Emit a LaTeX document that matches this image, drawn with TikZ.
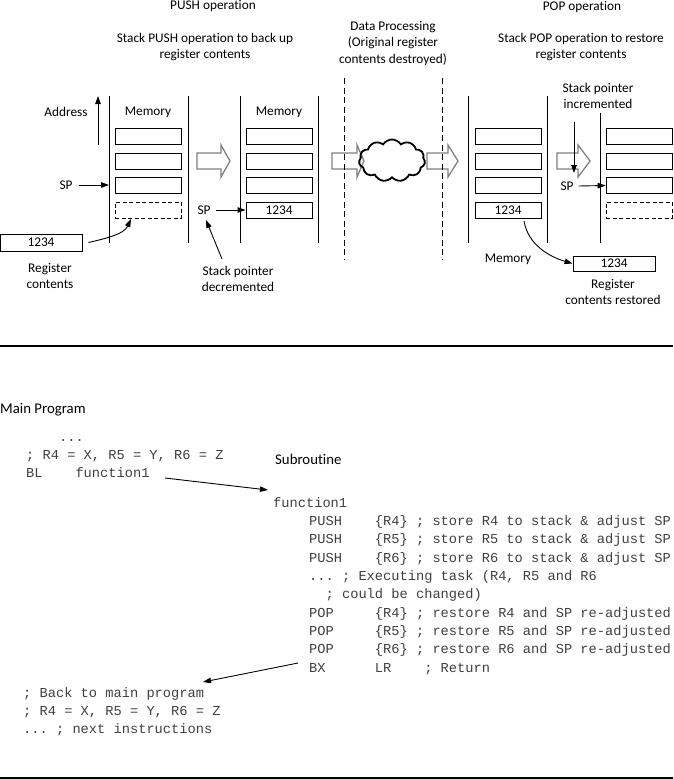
\documentclass[tikz,border=0pt]{standalone}
\usepackage{fontspec}
\setmainfont{Carlito}[Ligatures={NoCommon}]
\newfontfamily\codefont[WordSpace={1,0,0},PunctuationSpace=WordSpace]{Liberation Mono}
\usetikzlibrary{arrows.meta,shapes.symbols}
\newcommand\hollowarrow[3]{%
  \draw[hollow] (#1,153) -- (#2,153) -- (#2,145) -- (#3,161) -- (#2,177) -- (#2,169) -- (#1,169) -- cycle;}
\begin{document}
\frenchspacing
\begin{tikzpicture}[x=1pt,y=-1pt,
  lbl/.style={font=\fontsize{13.3}{16.5}\selectfont, align=center, inner sep=0},
  biglbl/.style={font=\fontsize{14.8}{18}\selectfont, inner sep=0, anchor=west},
  mem/.style={draw, line width=0.9pt, minimum width=66pt, minimum height=16pt, inner sep=0, font=\fontsize{13.3}{16}\selectfont},
  memd/.style={mem, dashed, dash pattern=on 4pt off 2.5pt},
  wall/.style={line width=1pt},
  ptr/.style={line width=0.9pt, -{Triangle[length=8pt,width=5.5pt]}},
  hollow/.style={draw=gray, line width=1.3pt, fill=white},
  code/.style={font=\codefont\fontsize{13.7}{16}\selectfont, text=black!75, anchor=base west, inner sep=0},
  rule/.style={line width=2.2pt},
]
\useasboundingbox (0,0) rectangle (673,779);

% ---------- headings ----------
\node[lbl] (pushT) at (213,6) {PUSH operation};
\node[lbl] (pushD) at (205,47) {Stack PUSH operation to back up\\register contents};
\node[lbl] (dataT) at (393,43) {Data Processing\\(Original register\\contents destroyed)};
\node[lbl] (popT) at (582,7) {POP operation};
\node[lbl] (popD) at (581,47) {Stack POP operation to restore\\register contents};

% ---------- memory walls ----------
\draw[wall] (109,96) -- (109,243);
\draw[wall] (188,96) -- (188,243);
\draw[wall] (240,96) -- (240,243);
\draw[wall] (318,96) -- (318,243);
\draw[wall] (468,96) -- (468,243);
\draw[wall] (547,96) -- (547,243);
\draw[wall] (600,113) -- (600,243);

% ---------- memory 1 ----------
\node[lbl] (memL1) at (148,112) {Memory};
\node[mem]  (m11) at (148,136) {};
\node[mem]  (m12) at (148,161) {};
\node[mem]  (m13) at (148,185.5) {};
\node[memd] (m14) at (148,210) {};
\node[lbl] (addr) at (66,112) {Address};
\coordinate (addrA) at (98,145);
\coordinate (addrB) at (98,96);
\draw[ptr] (addrA) -- (addrB);
\node[lbl] (sp1) at (66,185) {SP};
\coordinate (sp1t) at (109,185);
\draw[ptr] (sp1.east) ++(6,0) -- (sp1t);
\node[mem, minimum width=82pt, minimum height=17pt] (reg1) at (41,242.5) {1234};
\node[lbl] (reg1L) at (50,276) {Register\\contents};
\coordinate (m14in) at (131,219);
\draw[ptr] (reg1.east) ++(6,0) .. controls (108,238) and (124,234) .. (m14in);

% ---------- memory 2 ----------
\node[lbl] (memL2) at (279,112) {Memory};
\node[mem] (m21) at (279,136) {};
\node[mem] (m22) at (279,161) {};
\node[mem] (m23) at (279,185.5) {};
\node[mem] (m24) at (279,210) {1234};
\node[lbl] (sp2) at (204,210) {SP};
\draw[ptr] (sp2.east) ++(5,0) -- (m24.west);
\node[lbl] (spdec) at (238,279) {Stack pointer\\decremented};
\coordinate (spdecA) at (222,259);
\coordinate (spdecB) at (206,220);
\draw[ptr] (spdecA) -- (spdecB);

% ---------- data processing ----------
\hollowarrow{197}{221}{230}
\hollowarrow{332}{357}{364}
\hollowarrow{427}{448}{458}
\hollowarrow{557}{578}{590}
\node[cloud, cloud puffs=11, cloud puff arc=115, draw, line width=1.8pt, minimum width=66pt, minimum height=42pt, inner sep=0] (cloud) at (392,160.5) {};
\draw[dashed, line width=0.9pt, dash pattern=on 6pt off 3.5pt] (344,78) -- (344,259);
\draw[dashed, line width=0.9pt, dash pattern=on 6pt off 3.5pt] (442,78) -- (442,259);

% ---------- memory 3 ----------
\node[mem] (m31) at (508,136) {};
\node[mem] (m32) at (508,161) {};
\node[mem] (m33) at (508,185.5) {};
\node[mem] (m34) at (508,210) {1234};
\node[lbl] (memL3) at (508,259) {Memory};
\node[mem, minimum width=82pt, minimum height=15pt] (reg2) at (614,263.5) {1234};
\node[lbl] (reg2L) at (613,292) {Register\\contents restored};
\coordinate (c34) at (524,221);
\draw[ptr] (c34) .. controls (528,245) and (550,257) .. (reg2.west);

% ---------- memory 4 ----------
\node[mem]  (m41) at (639,136) {};
\node[mem]  (m42) at (639,161) {};
\node[mem]  (m43) at (639,185.5) {};
\node[memd] (m44) at (639,210) {};
\node[lbl] (spinc) at (598,96) {Stack pointer\\incremented};
\node[lbl] (sp4) at (567,186) {SP};
\draw[ptr] (sp4.east) ++(5,0) -- (m43.west);
\coordinate (incA) at (574,122);
\coordinate (incB) at (574,173);
\draw[ptr] (incA) -- (incB);

% ---------- rules ----------
\coordinate (r1a) at (0,346);
\coordinate (r1b) at (673,346);
\draw[rule] (r1a) -- (r1b);
\coordinate (r2a) at (0,778);
\coordinate (r2b) at (673,778);
\draw[rule] (r2a) -- (r2b);

% ---------- program ----------
\node[biglbl] (mainP) at (0,410) {Main Program};
\node[code] (c1) at (26,441) {\ \ \ \ ...};
\node[code] (c2) at (26,459) {; R4 = X, R5 = Y, R6 = Z};
\node[code] (c3) at (26,477) {BL\ \ \ \ function1};
\node[biglbl] (subP) at (275,459) {Subroutine};

\node[code] (s0) at (273,507) {function1};
\node[code] (s1) at (309,525.3) {PUSH\ \ \ \ \{R4\} ; store R4 to stack \& adjust SP};
\node[code] (s2) at (309,543.7) {PUSH\ \ \ \ \{R5\} ; store R5 to stack \& adjust SP};
\node[code] (s3) at (309,562) {PUSH\ \ \ \ \{R6\} ; store R6 to stack \& adjust SP};
\node[code] (s4) at (309,580.3) {... ; Executing task (R4, R5 and R6};
\node[code] (s5) at (309,598.7) {\ \ ; could be changed)};
\node[code] (s6) at (309,617) {POP\ \ \ \ \ \{R4\} ; restore R4 and SP re-adjusted};
\node[code] (s7) at (309,635.3) {POP\ \ \ \ \ \{R5\} ; restore R5 and SP re-adjusted};
\node[code] (s8) at (309,653.7) {POP\ \ \ \ \ \{R6\} ; restore R6 and SP re-adjusted};
\node[code] (s9) at (309,672) {BX\ \ \ \ \ \ LR\ \ \ \ ; Return};

\node[code] (b1) at (23,697) {; Back to main program};
\node[code] (b2) at (23,715) {; R4 = X, R5 = Y, R6 = Z};
\node[code] (b3) at (23,733) {... ; next instructions};

\coordinate (callA) at (165,478);
\coordinate (callB) at (268,490);
\draw[ptr] (callA) -- (callB);
\coordinate (retA) at (298,663);
\coordinate (retB) at (203,682);
\draw[ptr] (retA) -- (retB);
\end{tikzpicture}
\end{document}
